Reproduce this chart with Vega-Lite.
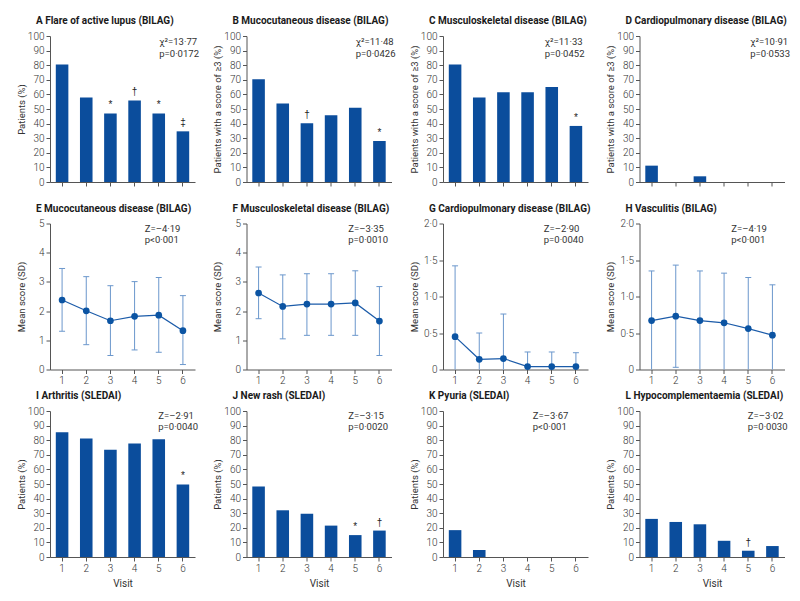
{
  "$schema": "https://vega.github.io/schema/vega-lite/v6.json",
  "padding": {"left": 16, "top": 16, "right": 5, "bottom": 5},
  "background": "white",
  "config": {
    "font": "Roboto",
    "view": {"stroke": null},
    "axis": {"grid": false, "domainColor": "#555", "tickColor": "#555", "labelColor": "#333", "titleColor": "#333", "labelFontSize": 10, "titleFontSize": 9.5, "titleFontWeight": "normal", "tickSize": 4, "labelPadding": 2, "domainWidth": 1, "tickWidth": 1, "labelOverlap": false, "labelFont": "Roboto", "labelFontWeight": 300},
    "axisY": {"titleX": -29, "titleBaseline": "middle"},
    "axisX": {"labelAngle": 0, "titlePadding": 5, "titleFontSize": 10},
    "title": {"anchor": "start", "frame": "group", "fontSize": 10, "fontWeight": "bold", "dx": -14, "offset": 5, "color": "#1a1a1a"},
    "text": {"fontSize": 9.5, "color": "#333"}
  },
  "datasets": {
    "bars": [
      {"panel": "A", "visit": 1, "pct": 80.4, "sig": ""},
      {"panel": "A", "visit": 2, "pct": 57.8, "sig": ""},
      {"panel": "A", "visit": 3, "pct": 47.0, "sig": "*"},
      {"panel": "A", "visit": 4, "pct": 55.9, "sig": "†"},
      {"panel": "A", "visit": 5, "pct": 47.0, "sig": "*"},
      {"panel": "A", "visit": 6, "pct": 34.7, "sig": "‡"},
      {"panel": "B", "visit": 1, "pct": 70.3, "sig": ""},
      {"panel": "B", "visit": 2, "pct": 53.7, "sig": ""},
      {"panel": "B", "visit": 3, "pct": 40.2, "sig": "†"},
      {"panel": "B", "visit": 4, "pct": 45.7, "sig": ""},
      {"panel": "B", "visit": 5, "pct": 50.9, "sig": ""},
      {"panel": "B", "visit": 6, "pct": 28.1, "sig": "*"},
      {"panel": "C", "visit": 1, "pct": 80.4, "sig": ""},
      {"panel": "C", "visit": 2, "pct": 57.8, "sig": ""},
      {"panel": "C", "visit": 3, "pct": 61.4, "sig": ""},
      {"panel": "C", "visit": 4, "pct": 61.4, "sig": ""},
      {"panel": "C", "visit": 5, "pct": 65.1, "sig": ""},
      {"panel": "C", "visit": 6, "pct": 38.4, "sig": "*"},
      {"panel": "D", "visit": 1, "pct": 11.2, "sig": ""},
      {"panel": "D", "visit": 2, "pct": 0, "sig": ""},
      {"panel": "D", "visit": 3, "pct": 3.9, "sig": ""},
      {"panel": "D", "visit": 4, "pct": 0, "sig": ""},
      {"panel": "D", "visit": 5, "pct": 0, "sig": ""},
      {"panel": "D", "visit": 6, "pct": 0, "sig": ""},
      {"panel": "I", "visit": 1, "pct": 85.5, "sig": ""},
      {"panel": "I", "visit": 2, "pct": 81.2, "sig": ""},
      {"panel": "I", "visit": 3, "pct": 73.5, "sig": ""},
      {"panel": "I", "visit": 4, "pct": 77.8, "sig": ""},
      {"panel": "I", "visit": 5, "pct": 80.7, "sig": ""},
      {"panel": "I", "visit": 6, "pct": 49.7, "sig": "*"},
      {"panel": "J", "visit": 1, "pct": 48.3, "sig": ""},
      {"panel": "J", "visit": 2, "pct": 32.0, "sig": ""},
      {"panel": "J", "visit": 3, "pct": 29.7, "sig": ""},
      {"panel": "J", "visit": 4, "pct": 21.5, "sig": ""},
      {"panel": "J", "visit": 5, "pct": 15.0, "sig": "*"},
      {"panel": "J", "visit": 6, "pct": 18.1, "sig": "†"},
      {"panel": "K", "visit": 1, "pct": 18.4, "sig": ""},
      {"panel": "K", "visit": 2, "pct": 4.8, "sig": ""},
      {"panel": "K", "visit": 3, "pct": 0, "sig": ""},
      {"panel": "K", "visit": 4, "pct": 0, "sig": ""},
      {"panel": "K", "visit": 5, "pct": 0, "sig": ""},
      {"panel": "K", "visit": 6, "pct": 0, "sig": ""},
      {"panel": "L", "visit": 1, "pct": 26.1, "sig": ""},
      {"panel": "L", "visit": 2, "pct": 24.0, "sig": ""},
      {"panel": "L", "visit": 3, "pct": 22.4, "sig": ""},
      {"panel": "L", "visit": 4, "pct": 11.1, "sig": ""},
      {"panel": "L", "visit": 5, "pct": 4.3, "sig": "†"},
      {"panel": "L", "visit": 6, "pct": 7.5, "sig": ""}
    ],
    "scores": [
      {"panel": "E", "visit": 1, "mean": 2.38, "lo": 1.31, "hi": 3.46},
      {"panel": "E", "visit": 2, "mean": 2.01, "lo": 0.85, "hi": 3.18},
      {"panel": "E", "visit": 3, "mean": 1.67, "lo": 0.48, "hi": 2.87},
      {"panel": "E", "visit": 4, "mean": 1.82, "lo": 0.67, "hi": 3.01},
      {"panel": "E", "visit": 5, "mean": 1.86, "lo": 0.59, "hi": 3.15},
      {"panel": "E", "visit": 6, "mean": 1.33, "lo": 0.17, "hi": 2.53},
      {"panel": "F", "visit": 1, "mean": 2.62, "lo": 1.74, "hi": 3.51},
      {"panel": "F", "visit": 2, "mean": 2.16, "lo": 1.05, "hi": 3.24},
      {"panel": "F", "visit": 3, "mean": 2.24, "lo": 1.17, "hi": 3.28},
      {"panel": "F", "visit": 4, "mean": 2.24, "lo": 1.17, "hi": 3.28},
      {"panel": "F", "visit": 5, "mean": 2.28, "lo": 1.17, "hi": 3.38},
      {"panel": "F", "visit": 6, "mean": 1.66, "lo": 0.48, "hi": 2.84},
      {"panel": "G", "visit": 1, "mean": 0.45, "lo": 0, "hi": 1.42},
      {"panel": "G", "visit": 2, "mean": 0.14, "lo": 0, "hi": 0.50},
      {"panel": "G", "visit": 3, "mean": 0.15, "lo": 0, "hi": 0.76},
      {"panel": "G", "visit": 4, "mean": 0.04, "lo": 0, "hi": 0.24},
      {"panel": "G", "visit": 5, "mean": 0.04, "lo": 0, "hi": 0.24},
      {"panel": "G", "visit": 6, "mean": 0.04, "lo": 0, "hi": 0.23},
      {"panel": "H", "visit": 1, "mean": 0.67, "lo": 0, "hi": 1.35},
      {"panel": "H", "visit": 2, "mean": 0.73, "lo": 0.03, "hi": 1.43},
      {"panel": "H", "visit": 3, "mean": 0.67, "lo": 0, "hi": 1.35},
      {"panel": "H", "visit": 4, "mean": 0.64, "lo": 0, "hi": 1.32},
      {"panel": "H", "visit": 5, "mean": 0.56, "lo": 0, "hi": 1.26},
      {"panel": "H", "visit": 6, "mean": 0.47, "lo": 0, "hi": 1.16}
    ],
    "stats": [
      {"panel": "A", "txt": "χ²=13·77\np=0·0172"},
      {"panel": "B", "txt": "χ²=11·48\np=0·0426"},
      {"panel": "C", "txt": "χ²=11·33\np=0·0452"},
      {"panel": "D", "txt": "χ²=10·91\np=0·0533"},
      {"panel": "E", "txt": "Z=–4·19\np<0·001"},
      {"panel": "F", "txt": "Z=–3·35\np=0·0010"},
      {"panel": "G", "txt": "Z=–2·90\np=0·0040"},
      {"panel": "H", "txt": "Z=–4·19\np<0·001"},
      {"panel": "I", "txt": "Z=–2·91\np=0·0040"},
      {"panel": "J", "txt": "Z=–3·15\np=0·0020"},
      {"panel": "K", "txt": "Z=–3·67\np<0·001"},
      {"panel": "L", "txt": "Z=–3·02\np=0·0030"}
    ]
  },
  "bounds": "flush",
  "columns": 4,
  "spacing": {"row": 41.5, "column": 51.5},
  "concat": [
    {
      "width": 145, "height": 146,
      "title": "A  Flare of active lupus (BILAG)",
      "layer": [
        {"data": {"name": "bars"}, "transform": [{"filter": "datum.panel == 'A'"}],
         "mark": {"type": "bar", "color": "#0b4d9c"},
         "encoding": {
           "x": {"field": "visit", "type": "ordinal", "scale": {"domain": [1, 2, 3, 4, 5, 6], "paddingInner": 0.48, "paddingOuter": 0.24}, "axis": {"labels": false, "title": null}},
           "y": {"field": "pct", "type": "quantitative", "scale": {"domain": [0, 100], "nice": false}, "axis": {"values": [0, 10, 20, 30, 40, 50, 60, 70, 80, 90, 100], "labelOverlap": false, "tickCount": 20, "format": "d", "title": "Patients (%)"}}}},
        {"data": {"name": "bars"}, "transform": [{"filter": "datum.panel == 'A'"}],
         "mark": {"type": "text", "baseline": "bottom", "dy": -3, "fontSize": 10, "color": "#222", "font": "Liberation Sans"},
         "encoding": {"x": {"field": "visit", "type": "ordinal"}, "y": {"field": "pct", "type": "quantitative"}, "text": {"field": "sig"}}},
        {"data": {"name": "stats"}, "transform": [{"filter": "datum.panel == 'A'"}],
         "mark": {"type": "text", "align": "left", "baseline": "top", "lineBreak": "\n", "lineHeight": 11.5, "dx": 0.5},
         "encoding": {"x": {"datum": 5, "type": "ordinal"}, "y": {"datum": 99, "type": "quantitative"}, "text": {"field": "txt"}}}
      ]
    },
    {
      "width": 145, "height": 146,
      "title": "B  Mucocutaneous disease (BILAG)",
      "layer": [
        {"data": {"name": "bars"}, "transform": [{"filter": "datum.panel == 'B'"}],
         "mark": {"type": "bar", "color": "#0b4d9c"},
         "encoding": {
           "x": {"field": "visit", "type": "ordinal", "scale": {"domain": [1, 2, 3, 4, 5, 6], "paddingInner": 0.48, "paddingOuter": 0.24}, "axis": {"labels": false, "title": null}},
           "y": {"field": "pct", "type": "quantitative", "scale": {"domain": [0, 100], "nice": false}, "axis": {"values": [0, 10, 20, 30, 40, 50, 60, 70, 80, 90, 100], "labelOverlap": false, "tickCount": 20, "format": "d", "title": "Patients with a score of ≥3 (%)"}}}},
        {"data": {"name": "bars"}, "transform": [{"filter": "datum.panel == 'B'"}],
         "mark": {"type": "text", "baseline": "bottom", "dy": -3, "fontSize": 10, "color": "#222", "font": "Liberation Sans"},
         "encoding": {"x": {"field": "visit", "type": "ordinal"}, "y": {"field": "pct", "type": "quantitative"}, "text": {"field": "sig"}}},
        {"data": {"name": "stats"}, "transform": [{"filter": "datum.panel == 'B'"}],
         "mark": {"type": "text", "align": "left", "baseline": "top", "lineBreak": "\n", "lineHeight": 11.5, "dx": 0.5},
         "encoding": {"x": {"datum": 5, "type": "ordinal"}, "y": {"datum": 99, "type": "quantitative"}, "text": {"field": "txt"}}}
      ]
    },
    {
      "width": 145, "height": 146,
      "title": "C  Musculoskeletal disease (BILAG)",
      "layer": [
        {"data": {"name": "bars"}, "transform": [{"filter": "datum.panel == 'C'"}],
         "mark": {"type": "bar", "color": "#0b4d9c"},
         "encoding": {
           "x": {"field": "visit", "type": "ordinal", "scale": {"domain": [1, 2, 3, 4, 5, 6], "paddingInner": 0.48, "paddingOuter": 0.24}, "axis": {"labels": false, "title": null}},
           "y": {"field": "pct", "type": "quantitative", "scale": {"domain": [0, 100], "nice": false}, "axis": {"values": [0, 10, 20, 30, 40, 50, 60, 70, 80, 90, 100], "labelOverlap": false, "tickCount": 20, "format": "d", "title": "Patients with a score of ≥3 (%)"}}}},
        {"data": {"name": "bars"}, "transform": [{"filter": "datum.panel == 'C'"}],
         "mark": {"type": "text", "baseline": "bottom", "dy": -3, "fontSize": 10, "color": "#222", "font": "Liberation Sans"},
         "encoding": {"x": {"field": "visit", "type": "ordinal"}, "y": {"field": "pct", "type": "quantitative"}, "text": {"field": "sig"}}},
        {"data": {"name": "stats"}, "transform": [{"filter": "datum.panel == 'C'"}],
         "mark": {"type": "text", "align": "left", "baseline": "top", "lineBreak": "\n", "lineHeight": 11.5, "dx": -7},
         "encoding": {"x": {"datum": 5, "type": "ordinal"}, "y": {"datum": 99, "type": "quantitative"}, "text": {"field": "txt"}}}
      ]
    },
    {
      "width": 145, "height": 146,
      "title": "D  Cardiopulmonary disease (BILAG)",
      "layer": [
        {"data": {"name": "bars"}, "transform": [{"filter": "datum.panel == 'D'"}],
         "mark": {"type": "bar", "color": "#0b4d9c"},
         "encoding": {
           "x": {"field": "visit", "type": "ordinal", "scale": {"domain": [1, 2, 3, 4, 5, 6], "paddingInner": 0.48, "paddingOuter": 0.24}, "axis": {"labels": false, "title": null}},
           "y": {"field": "pct", "type": "quantitative", "scale": {"domain": [0, 100], "nice": false}, "axis": {"values": [0, 10, 20, 30, 40, 50, 60, 70, 80, 90, 100], "labelOverlap": false, "tickCount": 20, "format": "d", "title": "Patients with a score of ≥3 (%)"}}}},
        {"data": {"name": "stats"}, "transform": [{"filter": "datum.panel == 'D'"}],
         "mark": {"type": "text", "align": "left", "baseline": "top", "lineBreak": "\n", "lineHeight": 11.5, "dx": 2},
         "encoding": {"x": {"datum": 5, "type": "ordinal"}, "y": {"datum": 99, "type": "quantitative"}, "text": {"field": "txt"}}}
      ]
    },
    {
      "width": 145, "height": 146,
      "title": "E  Mucocutaneous disease (BILAG)",
      "transform": [{"filter": "datum.panel == 'E'"}],
      "data": {"name": "scores"},
      "encoding": {
        "x": {"field": "visit", "type": "ordinal", "scale": {"domain": [1, 2, 3, 4, 5, 6], "paddingInner": 0.48, "paddingOuter": 0.24}, "axis": {"title": null}}
      },
      "layer": [
        {"mark": {"type": "rule", "color": "#6b97cc", "strokeWidth": 1},
         "encoding": {"y": {"field": "lo", "type": "quantitative", "scale": {"domain": [0, 5], "nice": false}, "axis": {"values": [0, 1, 2, 3, 4, 5], "tickCount": 20, "format": "d", "labelOverlap": false, "title": "Mean score (SD)"}}, "y2": {"field": "hi"}}},
        {"mark": {"type": "tick", "color": "#6b97cc", "size": 6, "thickness": 1, "opacity": 1},
         "encoding": {"y": {"field": "hi", "type": "quantitative", "axis": {"values": [0, 1, 2, 3, 4, 5], "tickCount": 20, "format": "d", "labelOverlap": false, "title": "Mean score (SD)"}}}},
        {"transform": [{"filter": "datum.lo > 0"}],
         "mark": {"type": "tick", "color": "#6b97cc", "size": 6, "thickness": 1, "opacity": 1},
         "encoding": {"y": {"field": "lo", "type": "quantitative", "axis": {"values": [0, 1, 2, 3, 4, 5], "tickCount": 20, "format": "d", "labelOverlap": false, "title": "Mean score (SD)"}}}},
        {"mark": {"type": "line", "color": "#1b5ba9", "strokeWidth": 1.2},
         "encoding": {"y": {"field": "mean", "type": "quantitative", "axis": {"values": [0, 1, 2, 3, 4, 5], "tickCount": 20, "format": "d", "labelOverlap": false, "title": "Mean score (SD)"}}}},
        {"mark": {"type": "circle", "size": 45, "color": "#0b54a3", "opacity": 1},
         "encoding": {"y": {"field": "mean", "type": "quantitative", "axis": {"values": [0, 1, 2, 3, 4, 5], "tickCount": 20, "format": "d", "labelOverlap": false, "title": "Mean score (SD)"}}}},
        {"data": {"name": "stats"}, "transform": [{"filter": "datum.panel == 'E'"}],
         "mark": {"type": "text", "align": "left", "baseline": "top", "lineBreak": "\n", "lineHeight": 11, "dx": -14},
         "encoding": {"x": {"datum": 5, "type": "ordinal"}, "y": {"datum": 5, "type": "quantitative"}, "text": {"field": "txt"}}}
      ]
    },
    {
      "width": 145, "height": 146,
      "title": "F  Musculoskeletal disease (BILAG)",
      "transform": [{"filter": "datum.panel == 'F'"}],
      "data": {"name": "scores"},
      "encoding": {
        "x": {"field": "visit", "type": "ordinal", "scale": {"domain": [1, 2, 3, 4, 5, 6], "paddingInner": 0.48, "paddingOuter": 0.24}, "axis": {"title": null}}
      },
      "layer": [
        {"mark": {"type": "rule", "color": "#6b97cc", "strokeWidth": 1},
         "encoding": {"y": {"field": "lo", "type": "quantitative", "scale": {"domain": [0, 5], "nice": false}, "axis": {"values": [0, 1, 2, 3, 4, 5], "tickCount": 20, "format": "d", "labelOverlap": false, "title": "Mean score (SD)"}}, "y2": {"field": "hi"}}},
        {"mark": {"type": "tick", "color": "#6b97cc", "size": 6, "thickness": 1, "opacity": 1},
         "encoding": {"y": {"field": "hi", "type": "quantitative", "axis": {"values": [0, 1, 2, 3, 4, 5], "tickCount": 20, "format": "d", "labelOverlap": false, "title": "Mean score (SD)"}}}},
        {"transform": [{"filter": "datum.lo > 0"}],
         "mark": {"type": "tick", "color": "#6b97cc", "size": 6, "thickness": 1, "opacity": 1},
         "encoding": {"y": {"field": "lo", "type": "quantitative", "axis": {"values": [0, 1, 2, 3, 4, 5], "tickCount": 20, "format": "d", "labelOverlap": false, "title": "Mean score (SD)"}}}},
        {"mark": {"type": "line", "color": "#1b5ba9", "strokeWidth": 1.2},
         "encoding": {"y": {"field": "mean", "type": "quantitative", "axis": {"values": [0, 1, 2, 3, 4, 5], "tickCount": 20, "format": "d", "labelOverlap": false, "title": "Mean score (SD)"}}}},
        {"mark": {"type": "circle", "size": 45, "color": "#0b54a3", "opacity": 1},
         "encoding": {"y": {"field": "mean", "type": "quantitative", "axis": {"values": [0, 1, 2, 3, 4, 5], "tickCount": 20, "format": "d", "labelOverlap": false, "title": "Mean score (SD)"}}}},
        {"data": {"name": "stats"}, "transform": [{"filter": "datum.panel == 'F'"}],
         "mark": {"type": "text", "align": "left", "baseline": "top", "lineBreak": "\n", "lineHeight": 11, "dx": -7},
         "encoding": {"x": {"datum": 5, "type": "ordinal"}, "y": {"datum": 5, "type": "quantitative"}, "text": {"field": "txt"}}}
      ]
    },
    {
      "width": 145, "height": 146,
      "title": "G  Cardiopulmonary disease (BILAG)",
      "transform": [{"filter": "datum.panel == 'G'"}],
      "data": {"name": "scores"},
      "encoding": {
        "x": {"field": "visit", "type": "ordinal", "scale": {"domain": [1, 2, 3, 4, 5, 6], "paddingInner": 0.48, "paddingOuter": 0.24}, "axis": {"title": null}}
      },
      "layer": [
        {"mark": {"type": "rule", "color": "#6b97cc", "strokeWidth": 1},
         "encoding": {"y": {"field": "lo", "type": "quantitative", "scale": {"domain": [0, 2], "nice": false}, "axis": {"values": [0, 0.5, 1, 1.5, 2], "tickCount": 20, "labelOverlap": false, "title": "Mean score (SD)", "labelExpr": "datum.value == 0 ? '0' : replace(format(datum.value, '.1f'), '.', '·')"}}, "y2": {"field": "hi"}}},
        {"mark": {"type": "tick", "color": "#6b97cc", "size": 6, "thickness": 1, "opacity": 1},
         "encoding": {"y": {"field": "hi", "type": "quantitative", "axis": {"values": [0, 0.5, 1, 1.5, 2], "tickCount": 20, "labelOverlap": false, "title": "Mean score (SD)", "labelExpr": "datum.value == 0 ? '0' : replace(format(datum.value, '.1f'), '.', '·')"}}}},
        {"transform": [{"filter": "datum.lo > 0"}],
         "mark": {"type": "tick", "color": "#6b97cc", "size": 6, "thickness": 1, "opacity": 1},
         "encoding": {"y": {"field": "lo", "type": "quantitative", "axis": {"values": [0, 0.5, 1, 1.5, 2], "tickCount": 20, "labelOverlap": false, "title": "Mean score (SD)", "labelExpr": "datum.value == 0 ? '0' : replace(format(datum.value, '.1f'), '.', '·')"}}}},
        {"mark": {"type": "line", "color": "#1b5ba9", "strokeWidth": 1.2},
         "encoding": {"y": {"field": "mean", "type": "quantitative", "axis": {"values": [0, 0.5, 1, 1.5, 2], "tickCount": 20, "labelOverlap": false, "title": "Mean score (SD)", "labelExpr": "datum.value == 0 ? '0' : replace(format(datum.value, '.1f'), '.', '·')"}}}},
        {"mark": {"type": "circle", "size": 45, "color": "#0b54a3", "opacity": 1},
         "encoding": {"y": {"field": "mean", "type": "quantitative", "axis": {"values": [0, 0.5, 1, 1.5, 2], "tickCount": 20, "labelOverlap": false, "title": "Mean score (SD)", "labelExpr": "datum.value == 0 ? '0' : replace(format(datum.value, '.1f'), '.', '·')"}}}},
        {"data": {"name": "stats"}, "transform": [{"filter": "datum.panel == 'G'"}],
         "mark": {"type": "text", "align": "left", "baseline": "top", "lineBreak": "\n", "lineHeight": 11, "dx": -8},
         "encoding": {"x": {"datum": 5, "type": "ordinal"}, "y": {"datum": 2, "type": "quantitative"}, "text": {"field": "txt"}}}
      ]
    },
    {
      "width": 145, "height": 146,
      "title": "H  Vasculitis (BILAG)",
      "transform": [{"filter": "datum.panel == 'H'"}],
      "data": {"name": "scores"},
      "encoding": {
        "x": {"field": "visit", "type": "ordinal", "scale": {"domain": [1, 2, 3, 4, 5, 6], "paddingInner": 0.48, "paddingOuter": 0.24}, "axis": {"title": null}}
      },
      "layer": [
        {"mark": {"type": "rule", "color": "#6b97cc", "strokeWidth": 1},
         "encoding": {"y": {"field": "lo", "type": "quantitative", "scale": {"domain": [0, 2], "nice": false}, "axis": {"values": [0, 0.5, 1, 1.5, 2], "tickCount": 20, "labelOverlap": false, "title": "Mean score (SD)", "labelExpr": "datum.value == 0 ? '0' : replace(format(datum.value, '.1f'), '.', '·')"}}, "y2": {"field": "hi"}}},
        {"mark": {"type": "tick", "color": "#6b97cc", "size": 6, "thickness": 1, "opacity": 1},
         "encoding": {"y": {"field": "hi", "type": "quantitative", "axis": {"values": [0, 0.5, 1, 1.5, 2], "tickCount": 20, "labelOverlap": false, "title": "Mean score (SD)", "labelExpr": "datum.value == 0 ? '0' : replace(format(datum.value, '.1f'), '.', '·')"}}}},
        {"transform": [{"filter": "datum.lo > 0"}],
         "mark": {"type": "tick", "color": "#6b97cc", "size": 6, "thickness": 1, "opacity": 1},
         "encoding": {"y": {"field": "lo", "type": "quantitative", "axis": {"values": [0, 0.5, 1, 1.5, 2], "tickCount": 20, "labelOverlap": false, "title": "Mean score (SD)", "labelExpr": "datum.value == 0 ? '0' : replace(format(datum.value, '.1f'), '.', '·')"}}}},
        {"mark": {"type": "line", "color": "#1b5ba9", "strokeWidth": 1.2},
         "encoding": {"y": {"field": "mean", "type": "quantitative", "axis": {"values": [0, 0.5, 1, 1.5, 2], "tickCount": 20, "labelOverlap": false, "title": "Mean score (SD)", "labelExpr": "datum.value == 0 ? '0' : replace(format(datum.value, '.1f'), '.', '·')"}}}},
        {"mark": {"type": "circle", "size": 45, "color": "#0b54a3", "opacity": 1},
         "encoding": {"y": {"field": "mean", "type": "quantitative", "axis": {"values": [0, 0.5, 1, 1.5, 2], "tickCount": 20, "labelOverlap": false, "title": "Mean score (SD)", "labelExpr": "datum.value == 0 ? '0' : replace(format(datum.value, '.1f'), '.', '·')"}}}},
        {"data": {"name": "stats"}, "transform": [{"filter": "datum.panel == 'H'"}],
         "mark": {"type": "text", "align": "left", "baseline": "top", "lineBreak": "\n", "lineHeight": 11, "dx": -17},
         "encoding": {"x": {"datum": 5, "type": "ordinal"}, "y": {"datum": 2, "type": "quantitative"}, "text": {"field": "txt"}}}
      ]
    },
    {
      "width": 145, "height": 146,
      "title": "I  Arthritis (SLEDAI)",
      "layer": [
        {"data": {"name": "bars"}, "transform": [{"filter": "datum.panel == 'I'"}],
         "mark": {"type": "bar", "color": "#0b4d9c"},
         "encoding": {
           "x": {"field": "visit", "type": "ordinal", "scale": {"domain": [1, 2, 3, 4, 5, 6], "paddingInner": 0.48, "paddingOuter": 0.24}, "axis": {"title": "Visit"}},
           "y": {"field": "pct", "type": "quantitative", "scale": {"domain": [0, 100], "nice": false}, "axis": {"values": [0, 10, 20, 30, 40, 50, 60, 70, 80, 90, 100], "labelOverlap": false, "tickCount": 20, "format": "d", "title": "Patients (%)"}}}},
        {"data": {"name": "bars"}, "transform": [{"filter": "datum.panel == 'I'"}],
         "mark": {"type": "text", "baseline": "bottom", "dy": -3, "fontSize": 10, "color": "#222", "font": "Liberation Sans"},
         "encoding": {"x": {"field": "visit", "type": "ordinal"}, "y": {"field": "pct", "type": "quantitative"}, "text": {"field": "sig"}}},
        {"data": {"name": "stats"}, "transform": [{"filter": "datum.panel == 'I'"}],
         "mark": {"type": "text", "align": "left", "baseline": "top", "lineBreak": "\n", "lineHeight": 11, "dx": -0.5},
         "encoding": {"x": {"datum": 5, "type": "ordinal"}, "y": {"datum": 100, "type": "quantitative"}, "text": {"field": "txt"}}}
      ]
    },
    {
      "width": 145, "height": 146,
      "title": "J  New rash (SLEDAI)",
      "layer": [
        {"data": {"name": "bars"}, "transform": [{"filter": "datum.panel == 'J'"}],
         "mark": {"type": "bar", "color": "#0b4d9c"},
         "encoding": {
           "x": {"field": "visit", "type": "ordinal", "scale": {"domain": [1, 2, 3, 4, 5, 6], "paddingInner": 0.48, "paddingOuter": 0.24}, "axis": {"title": "Visit"}},
           "y": {"field": "pct", "type": "quantitative", "scale": {"domain": [0, 100], "nice": false}, "axis": {"values": [0, 10, 20, 30, 40, 50, 60, 70, 80, 90, 100], "labelOverlap": false, "tickCount": 20, "format": "d", "title": "Patients (%)"}}}},
        {"data": {"name": "bars"}, "transform": [{"filter": "datum.panel == 'J'"}],
         "mark": {"type": "text", "baseline": "bottom", "dy": -3, "fontSize": 10, "color": "#222", "font": "Liberation Sans"},
         "encoding": {"x": {"field": "visit", "type": "ordinal"}, "y": {"field": "pct", "type": "quantitative"}, "text": {"field": "sig"}}},
        {"data": {"name": "stats"}, "transform": [{"filter": "datum.panel == 'J'"}],
         "mark": {"type": "text", "align": "left", "baseline": "top", "lineBreak": "\n", "lineHeight": 11, "dx": -7},
         "encoding": {"x": {"datum": 5, "type": "ordinal"}, "y": {"datum": 100, "type": "quantitative"}, "text": {"field": "txt"}}}
      ]
    },
    {
      "width": 145, "height": 146,
      "title": "K  Pyuria (SLEDAI)",
      "layer": [
        {"data": {"name": "bars"}, "transform": [{"filter": "datum.panel == 'K'"}],
         "mark": {"type": "bar", "color": "#0b4d9c"},
         "encoding": {
           "x": {"field": "visit", "type": "ordinal", "scale": {"domain": [1, 2, 3, 4, 5, 6], "paddingInner": 0.48, "paddingOuter": 0.24}, "axis": {"title": "Visit"}},
           "y": {"field": "pct", "type": "quantitative", "scale": {"domain": [0, 100], "nice": false}, "axis": {"values": [0, 10, 20, 30, 40, 50, 60, 70, 80, 90, 100], "labelOverlap": false, "tickCount": 20, "format": "d", "title": "Patients (%)"}}}},
        {"data": {"name": "stats"}, "transform": [{"filter": "datum.panel == 'K'"}],
         "mark": {"type": "text", "align": "left", "baseline": "top", "lineBreak": "\n", "lineHeight": 11, "dx": -19},
         "encoding": {"x": {"datum": 5, "type": "ordinal"}, "y": {"datum": 100, "type": "quantitative"}, "text": {"field": "txt"}}}
      ]
    },
    {
      "width": 145, "height": 146,
      "title": "L  Hypocomplementaemia (SLEDAI)",
      "layer": [
        {"data": {"name": "bars"}, "transform": [{"filter": "datum.panel == 'L'"}],
         "mark": {"type": "bar", "color": "#0b4d9c"},
         "encoding": {
           "x": {"field": "visit", "type": "ordinal", "scale": {"domain": [1, 2, 3, 4, 5, 6], "paddingInner": 0.48, "paddingOuter": 0.24}, "axis": {"title": "Visit"}},
           "y": {"field": "pct", "type": "quantitative", "scale": {"domain": [0, 100], "nice": false}, "axis": {"values": [0, 10, 20, 30, 40, 50, 60, 70, 80, 90, 100], "labelOverlap": false, "tickCount": 20, "format": "d", "title": "Patients (%)"}}}},
        {"data": {"name": "bars"}, "transform": [{"filter": "datum.panel == 'L'"}],
         "mark": {"type": "text", "baseline": "bottom", "dy": -3, "fontSize": 10, "color": "#222", "font": "Liberation Sans"},
         "encoding": {"x": {"field": "visit", "type": "ordinal"}, "y": {"field": "pct", "type": "quantitative"}, "text": {"field": "sig"}}},
        {"data": {"name": "stats"}, "transform": [{"filter": "datum.panel == 'L'"}],
         "mark": {"type": "text", "align": "left", "baseline": "top", "lineBreak": "\n", "lineHeight": 11, "dx": -0.5},
         "encoding": {"x": {"datum": 5, "type": "ordinal"}, "y": {"datum": 100, "type": "quantitative"}, "text": {"field": "txt"}}}
      ]
    }
  ]
}
